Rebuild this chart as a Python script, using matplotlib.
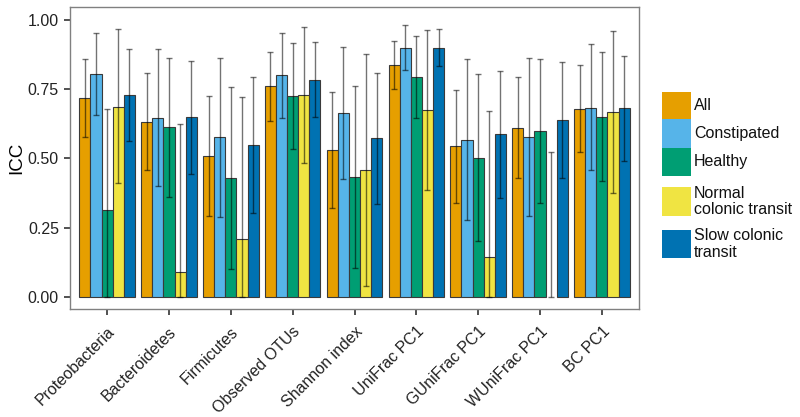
import numpy as np
import matplotlib
matplotlib.use("Agg")
import matplotlib.pyplot as plt
from matplotlib.patches import Rectangle

plt.rcParams["font.family"] = ["Liberation Sans", "DejaVu Sans"]

# Data
metrics = ["Proteobacteria", "Bacteroidetes", "Firmicutes", "Observed OTUs",
           "Shannon index", "UniFrac PC1", "GUniFrac PC1", "WUniFrac PC1", "BC PC1"]
groups = ["All", "Constipated", "Healthy", "Normal\ncolonic transit", "Slow colonic\ntransit"]
colors = ["#E69F00", "#56B4E9", "#009E73", "#F0E442", "#0072B2"]

icc_all = [0.719, 0.632, 0.510, 0.760, 0.530, 0.836, 0.545, 0.611, 0.678]
icc_con = [0.805, 0.647, 0.576, 0.800, 0.663, 0.900, 0.566, 0.578, 0.683]
icc_hea = [0.313, 0.612, 0.429, 0.725, 0.431, 0.794, 0.502, 0.598, 0.651]
icc_nor = [0.687, 0.088, 0.210, 0.729, 0.457, 0.675, 0.143, 0.000, 0.666]
icc_slo = [0.729, 0.648, 0.548, 0.784, 0.572, 0.900, 0.587, 0.639, 0.681]

lo_all = [0.578, 0.457, 0.292, 0.636, 0.321, 0.750, 0.339, 0.428, 0.522]
hi_all = [0.860, 0.808, 0.725, 0.883, 0.741, 0.923, 0.748, 0.793, 0.836]
lo_con = [0.657, 0.399, 0.288, 0.647, 0.424, 0.820, 0.276, 0.292, 0.457]
hi_con = [0.954, 0.896, 0.862, 0.953, 0.904, 0.981, 0.858, 0.864, 0.912]
lo_hea = [0.000, 0.359, 0.101, 0.534, 0.105, 0.646, 0.202, 0.340, 0.417]
hi_hea = [0.678, 0.864, 0.759, 0.916, 0.760, 0.943, 0.805, 0.858, 0.883]
lo_nor = [0.410, 0.000, 0.000, 0.482, 0.038, 0.387, 0.000, 0.000, 0.374]
hi_nor = [0.966, 0.624, 0.721, 0.976, 0.878, 0.963, 0.671, 0.522, 0.960]
lo_slo = [0.564, 0.443, 0.302, 0.649, 0.335, 0.833, 0.356, 0.430, 0.489]
hi_slo = [0.894, 0.853, 0.795, 0.919, 0.810, 0.966, 0.817, 0.847, 0.870]

values = [icc_all, icc_con, icc_hea, icc_nor, icc_slo]
lows = [lo_all, lo_con, lo_hea, lo_nor, lo_slo]
highs = [hi_all, hi_con, hi_hea, hi_nor, hi_slo]

W, H = 800, 417
fig = plt.figure(figsize=(W / 100, H / 100), dpi=100)
ax = fig.add_axes([0.0875, 0.2583, 0.71125, 0.7257])

x = np.arange(1, len(metrics) + 1)
w = 0.18
for j in range(len(groups)):
    v = np.array(values[j])
    xs = x + (j - 2) * w
    lw = np.where(v > 0, 0.8, 0.0)
    ax.bar(xs, v, width=w, color=colors[j], edgecolor="#3a3a3a", linewidth=lw, zorder=2)
    lo = np.array(lows[j])
    hi = np.array(highs[j])
    ax.errorbar(xs, v, yerr=[v - lo, hi - v], fmt="none", ecolor="black",
                alpha=0.55, elinewidth=1.0, capsize=2.5, capthick=1.0, zorder=3)

ax.set_xlim(0.4, 9.6)
ax.set_ylim(-0.045, 1.048)
ax.set_yticks([0, 0.25, 0.5, 0.75, 1.0])
ax.set_yticklabels(["0.00", "0.25", "0.50", "0.75", "1.00"])
ax.set_xticks(x)
ax.set_xticklabels(metrics, rotation=45, ha="right", rotation_mode="anchor")
ax.tick_params(axis="both", labelsize=11.5, length=4.5, width=1.1, color="#222222",
               labelcolor="#222222")
ax.tick_params(axis="x", pad=6)
ax.set_ylabel("ICC", fontsize=13.5, labelpad=2)
for s in ax.spines.values():
    s.set_color("#808080")
    s.set_linewidth(1.0)

# legend drawn by hand: single-line keys stack flush, two-line keys get extra room
key_x, key_w = 662, 29
key_tops = [91.7, 119.5, 147.5, 187, 230]
key_h = [27.8, 28, 28, 29, 28]
for j, lab in enumerate(groups):
    top = key_tops[j]
    fig.patches.append(Rectangle((key_x / W, 1 - (top + key_h[j]) / H), key_w / W, key_h[j] / H,
                                 transform=fig.transFigure, facecolor=colors[j],
                                 edgecolor="none"))
    fig.text((key_x + key_w + 3) / W, 1 - (top + key_h[j] / 2) / H, lab,
             fontsize=11.5, color="#111111", va="center", ha="left", linespacing=1.15)

plt.savefig("out.png", dpi=100)
